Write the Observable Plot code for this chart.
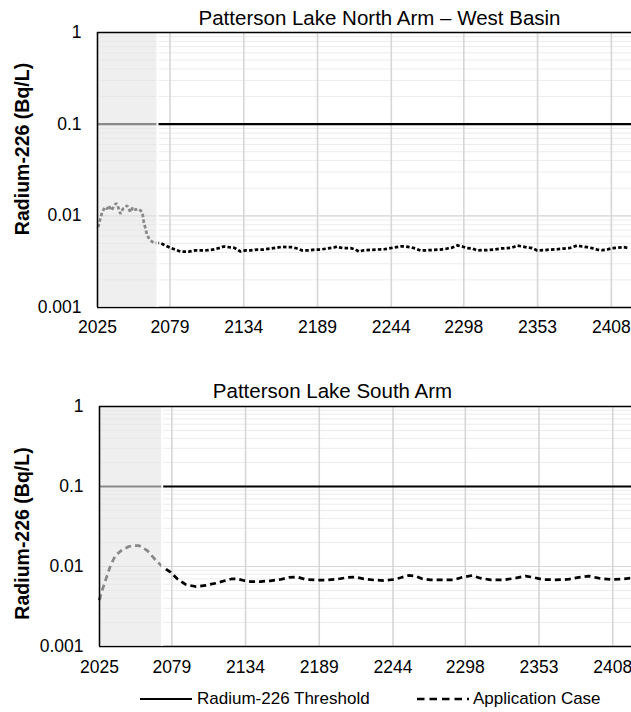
<!DOCTYPE html>
<html><head><meta charset="utf-8">
<script src="https://cdn.jsdelivr.net/npm/d3@7"></script>
<script src="https://cdn.jsdelivr.net/npm/@observablehq/plot@0.6"></script>
<style>
body{margin:0;background:#fff;font-family:"Liberation Sans",Arial,sans-serif;}
#wrap{position:relative;width:631px;height:712px;overflow:hidden;background:#fff;}
.panel{position:absolute;left:0;}
#legend{position:absolute;left:0;top:689px;width:631px;height:22px;font-size:17px;line-height:20px;color:#000;}
#legend span{position:absolute;top:0;white-space:nowrap;}
#legend svg{position:absolute;top:7px;}
</style></head><body>
<div id="wrap">
  <div class="panel" id="p1" style="top:0"></div>
  <div class="panel" id="p2" style="top:345px"></div>
  <div id="legend"></div>
</div>
<script>
// ---- data ----
const xTickYears = [2025, 2079, 2134, 2189, 2244, 2298, 2353, 2408];
const yTickValues = [0.001, 0.01, 0.1, 1];
const yTickLabels = ["0.001", "0.01", "0.1", "1"];
const yMajorGrid = [0.01, 0.1];
const threshold = 0.1;
const northTitle = "Patterson Lake North Arm – West Basin";
const southTitle = "Patterson Lake South Arm";
const yLabel = "Radium-226 (Bq/L)";
const seriesNames = ["Radium-226 Threshold", "Application Case"];
const northShadeEnd = 2069.7;
const southShadeEnd = 2071.8;

const northYears = [2025.5, 2027, 2028.5, 2030.5, 2032.2, 2033.4, 2035.4, 2037.2, 2038.9, 2040.4, 2042.1, 2043.9, 2045.9, 2047.1, 2048.3, 2049.6, 2051.3, 2053.3, 2055.3, 2057.1, 2058.4, 2059.5, 2060.8, 2062, 2064.5, 2067, 2072, 2075.7, 2079.4, 2083.1, 2086.9, 2093, 2098, 2101.8, 2106.8, 2111.7, 2116.7, 2119.1, 2122.9, 2126.6, 2129.1, 2131.6, 2135.3, 2139, 2144, 2149, 2154, 2158.9, 2162.7, 2166.4, 2170.1, 2173.8, 2177.6, 2182.5, 2187.5, 2191.2, 2196.2, 2201.1, 2203.7, 2206.1, 2209.8, 2213.6, 2217.3, 2219.8, 2223.5, 2228.5, 2233.5, 2238.4, 2242.1, 2245.8, 2250.8, 2254.6, 2258.3, 2262, 2265.7, 2270.7, 2275.7, 2280.6, 2285.6, 2289.4, 2293.1, 2296.8, 2300.5, 2304.3, 2308, 2311.7, 2315.5, 2320.4, 2325.4, 2330.4, 2334.1, 2337.8, 2341.5, 2345.3, 2349, 2352.7, 2357.6, 2362.6, 2367.6, 2372.5, 2377.5, 2382.5, 2386.2, 2389.9, 2393.6, 2397.4, 2401.1, 2404.8, 2408.6, 2412.3, 2417.3, 2421];
const northValues = [0.0075, 0.0092, 0.01096, 0.01242, 0.01193, 0.01297, 0.01143, 0.01265, 0.01374, 0.01242, 0.01052, 0.01193, 0.01242, 0.01297, 0.01193, 0.01096, 0.01242, 0.01164, 0.01193, 0.01143, 0.01096, 0.00853, 0.00722, 0.0061, 0.00538, 0.00508, 0.00503, 0.00475, 0.00448, 0.00426, 0.00408, 0.00408, 0.00419, 0.00419, 0.00422, 0.0043, 0.0045, 0.00463, 0.00455, 0.0045, 0.0043, 0.00408, 0.0042, 0.0042, 0.00429, 0.00429, 0.0044, 0.0045, 0.0046, 0.00455, 0.00455, 0.0044, 0.00419, 0.00421, 0.00429, 0.00429, 0.0044, 0.00451, 0.00463, 0.0045, 0.00445, 0.00445, 0.00429, 0.00408, 0.00421, 0.00425, 0.00429, 0.00432, 0.0044, 0.00451, 0.00463, 0.00463, 0.00455, 0.0044, 0.00419, 0.00421, 0.00425, 0.00429, 0.0044, 0.00451, 0.00475, 0.00463, 0.00445, 0.0044, 0.00419, 0.00422, 0.00422, 0.00429, 0.0044, 0.00445, 0.00451, 0.00475, 0.00463, 0.00451, 0.00445, 0.00419, 0.00422, 0.00429, 0.00432, 0.0044, 0.00448, 0.00475, 0.00463, 0.00455, 0.00445, 0.00429, 0.00422, 0.00429, 0.00445, 0.00448, 0.00455, 0.00445];

const southYears = [2025, 2026.5, 2028.2, 2030.7, 2033.2, 2036.9, 2041.9, 2046.9, 2050.5, 2054.3, 2060.6, 2066.8, 2071.8, 2078, 2083, 2089.2, 2096.6, 2104.1, 2111.6, 2119, 2124, 2127.8, 2132.7, 2137.8, 2145.1, 2152.6, 2160.1, 2166.3, 2172.5, 2178.7, 2187.5, 2194.9, 2202.4, 2209.9, 2216, 2222.2, 2229.7, 2237.2, 2244.6, 2249.6, 2255.8, 2260.8, 2265.8, 2272, 2279.5, 2289.4, 2295.7, 2303.1, 2309.3, 2316.8, 2326.7, 2335.4, 2342.9, 2349.1, 2355.4, 2364, 2374, 2382.7, 2390.1, 2397.6, 2406.3, 2413.8, 2421.3];
const southValues = [0.0038, 0.0048, 0.00579, 0.00772, 0.0103, 0.01372, 0.0162, 0.01778, 0.0182, 0.0183, 0.01585, 0.0121, 0.0100, 0.0085, 0.00702, 0.00596, 0.00562, 0.00579, 0.00618, 0.00668, 0.00702, 0.00702, 0.00668, 0.00649, 0.00649, 0.00663, 0.00688, 0.00729, 0.0074, 0.00688, 0.00678, 0.00678, 0.00694, 0.00729, 0.0074, 0.00702, 0.00678, 0.00668, 0.00688, 0.00724, 0.00772, 0.0076, 0.00702, 0.00682, 0.00682, 0.00682, 0.00733, 0.00772, 0.00714, 0.00682, 0.00682, 0.00714, 0.0076, 0.00729, 0.00688, 0.00682, 0.00688, 0.00733, 0.0076, 0.00714, 0.00688, 0.00694, 0.00714];

// ---- drawing ----
const FONT = "Liberation Sans, Arial, sans-serif";

function panel(cfg) {
  const rows = cfg.years.map((y, i) => ({year: y, value: cfg.values[i]}));
  return Plot.plot({
    width: 631,
    height: cfg.height,
    marginTop: cfg.marginTop,
    marginBottom: cfg.marginBottom,
    marginLeft: cfg.marginLeft,
    marginRight: 0,
    style: {fontFamily: FONT, fontSize: "17.5px", color: "#000", background: "transparent", overflow: "visible"},
    x: {type: "linear", domain: [xTickYears[0], cfg.xMax]},
    y: {type: "log", domain: [yTickValues[0], yTickValues[yTickValues.length - 1]]},
    marks: [
      Plot.gridY({ticks: 10, stroke: "#ececec", strokeOpacity: 1, strokeWidth: 1}),
      Plot.gridY(yMajorGrid, {stroke: "#d6d6d6", strokeOpacity: 1, strokeWidth: 1.2}),
      Plot.gridX(xTickYears, {stroke: "#d6d6d6", strokeOpacity: 1, strokeWidth: 1.6}),
      Plot.ruleY([threshold], {stroke: "#000", strokeWidth: 2.2}),
      Plot.line(rows, {x: "year", y: "value", stroke: "#000", strokeWidth: cfg.lineWidth, strokeDasharray: cfg.dash, strokeLinecap: "butt", strokeLinejoin: "miter"}),
      Plot.ruleY([yTickValues[0]], {stroke: "#000", strokeWidth: 1.5}),
      Plot.rect([{x1: xTickYears[0], x2: cfg.shadeEnd}], {x1: "x1", x2: "x2", fill: "#e4e4e4", fillOpacity: 0.6}),
      Plot.ruleX([cfg.shadeEnd], {stroke: "#fff", strokeWidth: 2}),
      Plot.ruleY([yTickValues[yTickValues.length - 1]], {stroke: "#000", strokeWidth: 1.5}),
      Plot.ruleX([xTickYears[0]], {stroke: "#000", strokeWidth: 1.5}),
      Plot.axisX(xTickYears, {tickSize: 0, tickPadding: cfg.tickPadX, tickFormat: d => String(d), fontSize: 17.5, label: null}),
      Plot.axisY(yTickValues, {tickSize: 0, tickPadding: 16, tickFormat: d => yTickLabels[yTickValues.indexOf(d)], fontSize: 17.5, label: null}),
      Plot.text([cfg.title], {frameAnchor: "top", text: d => d, textAnchor: "middle", lineAnchor: "middle", dx: cfg.titleDx, dy: cfg.titleDy, fontSize: 20.5, fill: "#000"}),
      Plot.text([yLabel], {frameAnchor: "left", text: d => d, rotate: -90, textAnchor: "middle", lineAnchor: "middle", dx: cfg.labelDx, dy: cfg.labelDy, fontSize: 19.5, fontWeight: "bold", fill: "#000"})
    ]
  });
}

document.getElementById("p1").append(panel({
  years: northYears, values: northValues, title: northTitle, shadeEnd: northShadeEnd,
  height: 345, marginTop: 32, marginBottom: 38, marginLeft: 97, xMax: 2423,
  titleDx: 15, titleDy: -14.5, labelDx: -74.5, labelDy: -21, tickPadX: 13,
  dash: "3.5,2.2", lineWidth: 2.75
}));
document.getElementById("p2").append(panel({
  years: southYears, values: southValues, title: southTitle, shadeEnd: southShadeEnd,
  height: 335, marginTop: 61, marginBottom: 34, marginLeft: 99, xMax: 2422,
  titleDx: -33, titleDy: -15.5, labelDx: -76.5, labelDy: 7, tickPadX: 14,
  dash: "6,4", lineWidth: 2.75
}));

// legend
const legend = document.getElementById("legend");
legend.innerHTML =
  `<svg width="52" height="6" style="left:140px"><line x1="0" y1="3" x2="52" y2="3" stroke="#000" stroke-width="2"/></svg>` +
  `<span style="left:197px">${seriesNames[0]}</span>` +
  `<svg width="52" height="6" style="left:417px"><line x1="0" y1="3" x2="52" y2="3" stroke="#000" stroke-width="2.5" stroke-dasharray="7.5,5"/></svg>` +
  `<span style="left:473px">${seriesNames[1]}</span>`;
</script>
</body></html>
